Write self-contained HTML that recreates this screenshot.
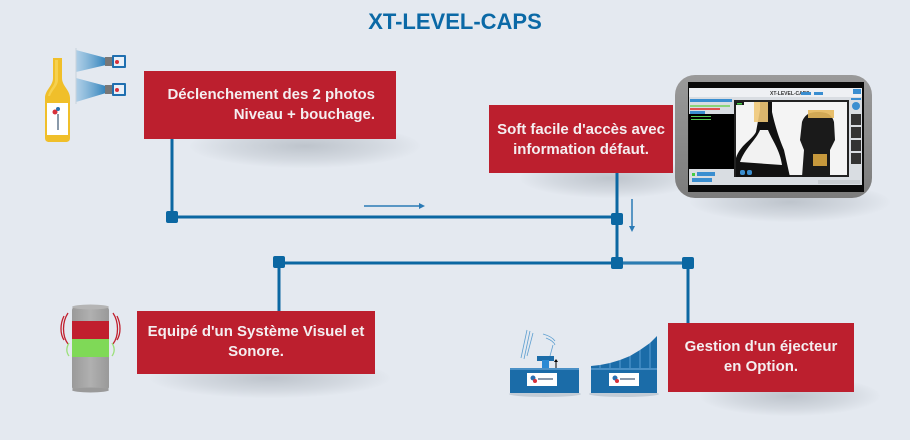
<!DOCTYPE html>
<html><head><meta charset="utf-8">
<style>
html,body{margin:0;padding:0;}
body{width:910px;height:440px;background:#e4e9f0;position:relative;overflow:hidden;font-family:"Liberation Sans",Arial,sans-serif;}
.title{position:absolute;left:0;top:8px;width:910px;text-align:center;font-weight:bold;font-size:22px;color:#0b69a6;line-height:28px;}
.box{position:absolute;background:#bc1f2e;color:#f4eef0;font-weight:bold;font-size:15px;line-height:20px;box-sizing:border-box;}
.sh{position:absolute;border-radius:50%;background:radial-gradient(ellipse at center,rgba(90,100,110,0.28) 0%,rgba(90,100,110,0.12) 45%,rgba(90,100,110,0) 72%);}
svg{position:absolute;left:0;top:0;}
</style></head><body>
<div class="title">XT-LEVEL-CAPS</div>

<!-- shadows -->
<div class="sh" style="left:190px;top:124px;width:230px;height:44px;"></div>
<div class="sh" style="left:520px;top:158px;width:180px;height:40px;"></div>
<div class="sh" style="left:150px;top:358px;width:240px;height:40px;"></div>
<div class="sh" style="left:700px;top:376px;width:180px;height:40px;"></div>
<div class="sh" style="left:690px;top:182px;width:200px;height:40px;"></div>

<svg width="910" height="440" viewBox="0 0 910 440">
  <defs>
    <linearGradient id="beam" x1="0" x2="1" y1="0" y2="0">
      <stop offset="0" stop-color="#8cbde0" stop-opacity="0.6"/>
      <stop offset="1" stop-color="#2f82bb"/>
    </linearGradient>
    <linearGradient id="mon" x1="0" x2="0" y1="0" y2="1">
      <stop offset="0" stop-color="#9a9a9a"/>
      <stop offset="1" stop-color="#7c7c7c"/>
    </linearGradient>
    <linearGradient id="cyl" x1="0" x2="1" y1="0" y2="0">
      <stop offset="0" stop-color="#9a9a9a"/>
      <stop offset="0.5" stop-color="#b0b0b0"/>
      <stop offset="1" stop-color="#999"/>
    </linearGradient>
  </defs>

  <!-- connectors -->
  <g stroke="#0b67a2" stroke-width="3" fill="none">
    <line x1="172" y1="139" x2="172" y2="217"/>
    <line x1="172" y1="217" x2="617" y2="217"/>
    <line x1="617" y1="173" x2="617" y2="263"/>
    <line x1="279" y1="263" x2="688" y2="263"/>
    <line x1="279" y1="262" x2="279" y2="311"/>
    <line x1="688" y1="263" x2="688" y2="323"/>
  </g>
  <line x1="623" y1="263" x2="682" y2="263" stroke="#4a90c2" stroke-width="1"/>
  <g fill="#0b67a2">
    <rect x="166" y="211" width="12" height="12" rx="2"/>
    <rect x="611" y="213" width="12" height="12" rx="2"/>
    <rect x="611" y="257" width="12" height="12" rx="2"/>
    <rect x="273" y="256" width="12" height="12" rx="2"/>
    <rect x="682" y="257" width="12" height="12" rx="2"/>
  </g>
  <!-- thin arrows -->
  <g stroke="#2a7ab5" stroke-width="1.5" fill="#2a7ab5">
    <line x1="364" y1="206" x2="420" y2="206"/>
    <polygon points="425,206 419,203 419,209" stroke="none"/>
    <line x1="632" y1="199" x2="632" y2="227"/>
    <polygon points="632,232 629,226 635,226" stroke="none"/>
  </g>

  <!-- bottle -->
  <path d="M53,58 L62,58 L62,78 C62,86 70,90 70,98 L70,138 C70,141 68,142 66,142 L49,142 C47,142 45,141 45,138 L45,98 C45,90 53,86 53,78 Z" fill="#f0bf2a"/>
  <path d="M55,60 L58,60 L58,80 C58,86 52,90 50,96 L48,96 C50,88 55,86 55,80 Z" fill="#f8d860" opacity="0.7"/>
  <rect x="47" y="103" width="21" height="32" fill="#ffffff"/>
  <circle cx="55" cy="112" r="2.5" fill="#d8303a"/>
  <circle cx="58" cy="109" r="2" fill="#2a6fb0"/>
  <rect x="57" y="114" width="2" height="16" fill="#8a9aaa"/>
  <!-- beams -->
  <polygon points="76,50 106,58 106,65 76,72" fill="url(#beam)"/>
  <polygon points="76,78 106,86 106,93 76,102" fill="url(#beam)"/>
  <line x1="76" y1="48" x2="76" y2="104" stroke="#c9d3dd" stroke-width="1"/>
  <rect x="105" y="57" width="8" height="9" fill="#777"/>
  <rect x="112" y="55" width="14" height="13" rx="1" fill="#1f6fb0"/>
  <rect x="114" y="57" width="10" height="9" fill="#e8f0f8"/>
  <circle cx="117" cy="62" r="2" fill="#d8303a"/>
  <rect x="105" y="85" width="8" height="9" fill="#777"/>
  <rect x="112" y="83" width="14" height="13" rx="1" fill="#1f6fb0"/>
  <rect x="114" y="85" width="10" height="9" fill="#e8f0f8"/>
  <circle cx="117" cy="90" r="2" fill="#d8303a"/>

  <!-- monitor -->
  <rect x="675" y="75" width="197" height="123" rx="20" fill="url(#mon)"/>
  <rect x="688" y="82" width="176" height="110" fill="#0a0a0a"/>
  <rect x="689" y="88" width="173" height="97" fill="#d9dde2"/>
  <rect x="689" y="88" width="173" height="9" fill="#eef0f3"/>
  <text x="770" y="95" font-size="5" font-family="Liberation Sans, sans-serif" font-weight="bold" fill="#333">XT-LEVEL-CAPS</text>
  <rect x="690" y="99" width="42" height="3" fill="#3a8ed0"/>
  <rect x="690" y="105" width="40" height="2" fill="#8bd47a"/>
  <rect x="690" y="108" width="30" height="2" fill="#e05050"/>
  <rect x="690" y="111" width="15" height="3" fill="#3a8ed0"/>
  <rect x="689" y="114" width="45" height="55" fill="#000"/>
  <rect x="691" y="116" width="20" height="1" fill="#5c5"/>
  <rect x="691" y="119" width="20" height="1" fill="#5c5"/>
  <rect x="692" y="173" width="3" height="3" fill="#4c4"/>
  <rect x="697" y="172" width="18" height="4" fill="#3a8ed0"/>
  <rect x="692" y="178" width="20" height="4" fill="#3a8ed0"/>
  <!-- camera image -->
  <rect x="734" y="100" width="115" height="77" fill="#f4f4f4"/>
  <rect x="734" y="100" width="115" height="2" fill="#222"/>
  <rect x="734" y="100" width="2" height="77" fill="#222"/>
  <rect x="847" y="100" width="2" height="77" fill="#222"/>
  <rect x="734" y="175" width="115" height="2" fill="#222"/>
  <path d="M736,177 L736,158 C740,145 752,140 756,132 L760,110 L760,102 L772,102 L772,112 C776,130 780,140 784,150 L790,177 Z" fill="#111"/>
  <path d="M740,162 C745,148 756,140 760,130 L768,130 C772,140 780,150 782,165 Z" fill="#f2f2f2"/>
  <rect x="754" y="102" width="14" height="20" fill="#f0c878" opacity="0.9"/>
  <path d="M802,177 L804,150 L800,140 L802,122 C805,114 810,112 818,112 C826,112 832,114 834,122 L835,140 L830,150 L830,177 Z" fill="#1a1a1a"/>
  <rect x="808" y="110" width="26" height="8" fill="#e6b85c" opacity="0.9"/>
  <rect x="813" y="154" width="14" height="12" fill="#d9a640" opacity="0.9"/>
  <rect x="740" y="170" width="5" height="5" rx="2" fill="#3a8ed0"/>
  <rect x="747" y="170" width="5" height="5" rx="2" fill="#3a8ed0"/>
  <rect x="736" y="102" width="8" height="3" fill="#1a1a1a"/>
  <rect x="737" y="103" width="5" height="1.5" fill="#4c4"/>
  <!-- right column -->
  <rect x="851" y="98" width="10" height="2" fill="#3a8ed0"/>
  <circle cx="856" cy="106" r="4" fill="#3a8ed0"/>
  <rect x="851" y="114" width="10" height="11" fill="#333"/>
  <rect x="851" y="127" width="10" height="11" fill="#333"/>
  <rect x="851" y="140" width="10" height="11" fill="#333"/>
  <rect x="851" y="153" width="10" height="11" fill="#333"/>
  <rect x="818" y="180" width="42" height="4" fill="#c8ccd0"/>
  <rect x="801" y="92" width="10" height="3" fill="#3a8ed0"/>
  <rect x="814" y="92" width="9" height="3" fill="#3a8ed0"/>
  <rect x="853" y="89" width="8" height="5" fill="#3a8ed0"/>

  <!-- stack light -->
  <rect x="72" y="307" width="37" height="83" rx="3" fill="url(#cyl)"/>
  <ellipse cx="90.5" cy="307" rx="18.5" ry="2.5" fill="#b5b5b5"/>
  <ellipse cx="90.5" cy="390" rx="18.5" ry="2.5" fill="#9a9a9a"/>
  <rect x="72" y="321" width="37" height="18" fill="#c11f2e"/>
  <rect x="72" y="339" width="37" height="18" fill="#7fd957"/>
  <g fill="none" stroke-width="1.3">
    <path d="M68,313 C62,322 62,336 68,344" stroke="#c11f2e"/>
    <path d="M64,316 C60,324 60,334 64,340" stroke="#c11f2e"/>
    <path d="M113,313 C119,322 119,336 113,344" stroke="#c11f2e"/>
    <path d="M117,316 C121,324 121,334 117,340" stroke="#c11f2e"/>
    <path d="M69,343 C66,348 66,352 69,356" stroke="#9be07a"/>
    <path d="M112,343 C115,348 115,352 112,356" stroke="#9be07a"/>
  </g>

  <!-- ejector 1 -->
  <ellipse cx="545" cy="394" rx="36" ry="3" fill="#c3ccd6"/>
  <rect x="510" y="368" width="69" height="25" fill="#1b6ca8"/>
  <rect x="510" y="368" width="69" height="2" fill="#4a90c6"/>
  <rect x="527" y="373" width="30" height="13" fill="#ffffff"/>
  <circle cx="533" cy="378" r="2.5" fill="#2a6fb0"/>
  <circle cx="535" cy="381" r="2" fill="#d8303a"/>
  <rect x="538" y="378" width="15" height="2" fill="#8a99aa"/>
  <rect x="537" y="356" width="17" height="5" fill="#1b6ca8"/>
  <rect x="542" y="360" width="7" height="8" fill="#2a8ad4"/>
  <line x1="556" y1="368" x2="556" y2="361" stroke="#000" stroke-width="1"/>
  <polygon points="556,359 554,362 558,362" fill="#000"/>
  <g stroke="#5e9fd0" stroke-width="0.8" fill="none">
    <line x1="527" y1="330" x2="521" y2="358"/>
    <line x1="530" y1="331" x2="524" y2="359"/>
    <line x1="533" y1="333" x2="527" y2="356"/>
    <path d="M543,334 C550,336 553,338 555,341"/>
    <path d="M546,338 C551,340 554,342 555,345"/>
    <line x1="553" y1="345" x2="550" y2="356"/>
  </g>

  <!-- ejector 2 -->
  <ellipse cx="624" cy="394" rx="35" ry="3" fill="#c3ccd6"/>
  <path d="M591,393 L591,366 L600,365 L610,363 L620,360 L630,356 L640,350 L650,343 L657,336 L657,393 Z" fill="#1b6ca8"/>
  <g stroke="#5a9ed4" stroke-width="1">
    <line x1="600" y1="365" x2="600" y2="370"/>
    <line x1="610" y1="363" x2="610" y2="370"/>
    <line x1="620" y1="360" x2="620" y2="370"/>
    <line x1="630" y1="356" x2="630" y2="370"/>
    <line x1="640" y1="350" x2="640" y2="370"/>
    <line x1="650" y1="343" x2="650" y2="370"/>
  </g>
  <rect x="591" y="368" width="66" height="2" fill="#4a90c6"/>
  <rect x="609" y="373" width="30" height="13" fill="#ffffff"/>
  <circle cx="615" cy="378" r="2.5" fill="#2a6fb0"/>
  <circle cx="617" cy="381" r="2" fill="#d8303a"/>
  <rect x="620" y="378" width="15" height="2" fill="#8a99aa"/>
</svg>

<div class="box" style="left:144px;top:71px;width:252px;height:68px;padding-top:14px;padding-right:21px;text-align:right;">Déclenchement des 2 photos<br>Niveau + bouchage.</div>
<div class="box" style="left:489px;top:105px;width:184px;height:68px;padding-top:15px;text-align:center;">Soft facile d'accès avec<br>information défaut.</div>
<div class="box" style="left:137px;top:311px;width:238px;height:63px;padding-top:11px;text-align:center;">Equipé d'un Système Visuel et<br>Sonore.</div>
<div class="box" style="left:668px;top:323px;width:186px;height:69px;padding-top:14px;text-align:center;">Gestion d'un éjecteur<br>en Option.</div>
</body></html>
